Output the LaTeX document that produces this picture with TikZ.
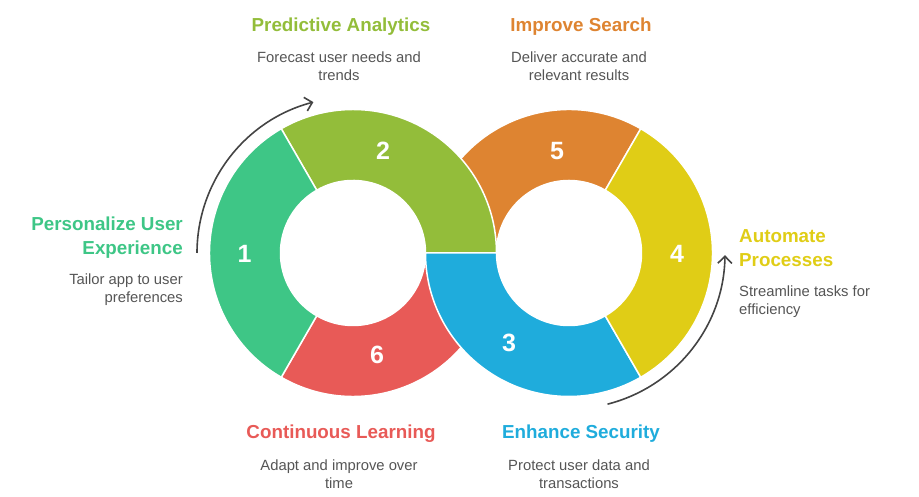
\documentclass[tikz,border=0pt]{standalone}
\usepackage{fontspec}
\setmainfont{Liberation Sans}
\usetikzlibrary{arrows.meta}
\definecolor{cgreen}{HTML}{3EC686}
\definecolor{colive}{HTML}{93BD3A}
\definecolor{cblue}{HTML}{1FACDC}
\definecolor{cyellow}{HTML}{E0CD16}
\definecolor{corange}{HTML}{DE8431}
\definecolor{cred}{HTML}{E85A57}
\definecolor{ctext}{HTML}{555555}
\definecolor{carrow}{HTML}{444444}
\newcommand{\ringseg}[4]{%
  \path[segfill,fill=#2] ([shift={(#3:143.5)}]#1) arc[start angle=#3,end angle=#4,radius=143.5]
    -- ([shift={(#4:72.5)}]#1) arc[start angle=#4,end angle=#3,radius=72.5] -- cycle;}
\tikzset{
  segfill/.style={draw=white,line width=1.5pt,line join=miter},
  numlabel/.style={text=white,font=\fontsize{25}{25}\selectfont\bfseries,inner sep=0pt,anchor=center},
  headlabel/.style={font=\fontsize{18.8}{24}\selectfont\bfseries,inner sep=0pt,anchor=base},
  sublabel/.style={text=ctext,font=\fontsize{14.8}{18}\selectfont,inner sep=0pt,anchor=base},
  turnarrow/.style={draw=carrow,line width=1.6pt,-{Straight Barb[length=7pt,width=14pt]}},
}
\begin{document}
\begin{tikzpicture}[x=1pt,y=1pt]
\useasboundingbox (0,0) rectangle (919,497);
\coordinate (L) at (353,244);
\coordinate (R) at (569,244);
\ringseg{R}{corange}{60}{180}
\ringseg{L}{cred}{240}{360}
\ringseg{L}{colive}{0}{120}
\ringseg{R}{cblue}{180}{300}
\ringseg{R}{cyellow}{-60}{60}
\ringseg{L}{cgreen}{120}{240}
\draw[turnarrow] ([shift={(180:156)}]L) arc[start angle=180,end angle=104.7,radius=156];
\draw[turnarrow] ([shift={(-75.7:156)}]R) arc[start angle=-75.7,end angle=-0.8,radius=156];
\node[numlabel] (n1) at (244.5,243) {1};
\node[numlabel] (n2) at (383,346) {2};
\node[numlabel] (n3) at (509,154) {3};
\node[numlabel] (n4) at (677,243) {4};
\node[numlabel] (n5) at (557,346) {5};
\node[numlabel] (n6) at (377,142) {6};
\node[headlabel,text=colive,align=center] (h2) at (341,465) {Predictive Analytics};
\node[sublabel,align=center] (s2) at (339,416) {Forecast user needs and\\trends};
\node[headlabel,text=corange,align=center] (h5) at (581,465) {Improve Search};
\node[sublabel,align=center] (s5) at (579,416) {Deliver accurate and\\relevant results};
\node[headlabel,text=cgreen,align=right,anchor=base east] (h1) at (183,242) {Personalize User\\Experience};
\node[sublabel,align=right,anchor=base east] (s1) at (183,194) {Tailor app to user\\preferences};
\node[headlabel,text=cyellow,align=left,anchor=base west] (h4) at (739,230.5) {Automate\\Processes};
\node[sublabel,align=left,anchor=base west] (s4) at (739,182) {Streamline tasks for\\efficiency};
\node[headlabel,text=cred,align=center] (h6) at (341,58) {Continuous Learning};
\node[sublabel,align=center] (s6) at (339,8) {Adapt and improve over\\time};
\node[headlabel,text=cblue,align=center] (h3) at (581,58) {Enhance Security};
\node[sublabel,align=center] (s3) at (579,8) {Protect user data and\\transactions};
\end{tikzpicture}
\end{document}
